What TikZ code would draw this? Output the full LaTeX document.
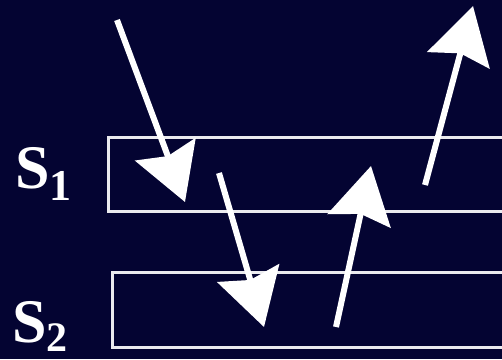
\documentclass[tikz,border=0pt]{standalone}
\usepackage{fontspec}
\setmainfont{Liberation Serif}
\usetikzlibrary{arrows.meta}
\definecolor{navy}{RGB}{4,4,50}

\tikzset{
  layer/.style={draw=white!92!navy, line width=3pt},
  ray/.style={white, line width=6pt, -{Stealth[length=56pt,width=64pt,inset=7pt]}},
  tag/.style={white, inner sep=0pt, anchor=base west, font=\fontsize{62}{62}\selectfont\bfseries}
}

\begin{document}
\begin{tikzpicture}[x=1pt,y=-1pt]
\fill[navy] (0,0) rectangle (502,359);
\useasboundingbox (0,0) rectangle (502,359);
\clip (0,0) rectangle (502,359);
% the two layers
\draw[layer] (108,137) rectangle (530,211);
\draw[layer] (112,272) rectangle (530,347);
\node[tag] (s1) at (15,188) {S\raisebox{-12pt}{\fontsize{44}{44}\selectfont 1}};
\node[tag] (s2) at (12,342) {S\raisebox{-9pt}{\fontsize{42}{42}\selectfont 2}};
% rays
\coordinate (a0) at (117,20);
\coordinate (a1) at (185,202);
\coordinate (b0) at (219,173);
\coordinate (b1) at (264,327);
\coordinate (c0) at (336,327);
\coordinate (c1) at (371,166);
\coordinate (d0) at (425,185);
\coordinate (d1) at (473,6);
\draw[ray] (a0) -- (a1);
\draw[ray] (b0) -- (b1);
\draw[ray] (c0) -- (c1);
\draw[ray] (d0) -- (d1);
\end{tikzpicture}
\end{document}
